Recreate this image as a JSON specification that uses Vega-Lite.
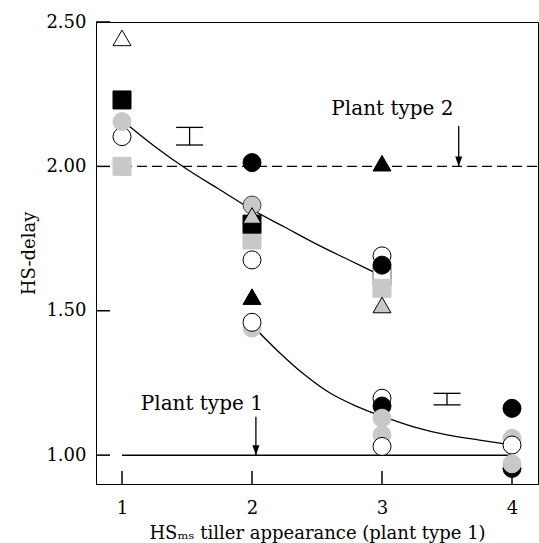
{
  "$schema": "https://vega.github.io/schema/vega-lite/v6.json",
  "width": 442,
  "height": 462,
  "autosize": {"type": "none"},
  "padding": {"left": 96, "top": 22, "right": 1, "bottom": 59},
  "background": "white",
  "config": {
    "font": "DejaVu Serif",
    "view": {"stroke": "black", "strokeWidth": 1},
    "axis": {
      "grid": false,
      "ticks": false,
      "domainColor": "black",
      "labelColor": "black",
      "titleColor": "black",
      "labelFont": "DejaVu Serif",
      "titleFont": "DejaVu Serif",
      "labelFontSize": 18,
      "titleFontSize": 18,
      "titleFontWeight": "normal"
    }
  },
  "encoding": {
    "x": {
      "field": "x",
      "type": "quantitative",
      "scale": {"domain": [0.8, 4.2], "nice": false, "zero": false},
      "axis": {
        "values": [1, 2, 3, 4],
        "format": "d",
        "labelPadding": 15,
        "title": "HSₘₛ tiller appearance (plant type 1)",
        "titleY": 54,
        "titleBaseline": "alphabetic"
      }
    },
    "y": {
      "field": "y",
      "type": "quantitative",
      "scale": {"domain": [0.9, 2.5], "nice": false, "zero": false},
      "axis": {
        "values": [1, 1.5, 2, 2.5],
        "format": ".2f",
        "labelPadding": 10,
        "title": "HS-delay",
        "titleX": -67,
        "titleY": 231,
        "titleAngle": -90,
        "titleBaseline": "middle",
        "titleAlign": "center"
      }
    }
  },
  "layer": [
    {
      "data": {"values": [{"x": 1, "y": 0.9, "yt": 0.945}, {"x": 2, "y": 0.9, "yt": 0.945}, {"x": 3, "y": 0.9, "yt": 0.945}, {"x": 4, "y": 0.9, "yt": 0.945}]},
      "mark": {"type": "rule", "color": "black", "strokeWidth": 1.5},
      "encoding": {"y2": {"field": "yt"}}
    },
    {
      "data": {"values": [{"x": 0.8, "xt": 0.908, "y": 1}, {"x": 0.8, "xt": 0.908, "y": 1.5}, {"x": 0.8, "xt": 0.908, "y": 2}, {"x": 0.8, "xt": 0.908, "y": 2.5}]},
      "mark": {"type": "rule", "color": "black", "strokeWidth": 1.5},
      "encoding": {"x2": {"field": "xt"}}
    },
    {
      "data": {"values": [{"x": 1, "y": 2}, {"x": 4.2, "y": 2}]},
      "mark": {"type": "line", "color": "black", "strokeWidth": 1.3, "strokeDash": [10, 5]},
      "encoding": {}
    },
    {
      "data": {"values": [{"x": 1, "y": 1}, {"x": 4, "y": 1}]},
      "mark": {"type": "line", "color": "black", "strokeWidth": 1.5},
      "encoding": {}
    },
    {
      "data": {"values": [
        {"c": "upper", "x": 1, "y": 2.16},
        {"c": "upper", "x": 1.25, "y": 2.07},
        {"c": "upper", "x": 1.5, "y": 1.99},
        {"c": "upper", "x": 1.75, "y": 1.92},
        {"c": "upper", "x": 2, "y": 1.85},
        {"c": "upper", "x": 2.25, "y": 1.79},
        {"c": "upper", "x": 2.5, "y": 1.73},
        {"c": "upper", "x": 2.75, "y": 1.675},
        {"c": "upper", "x": 3, "y": 1.62},
        {"c": "lower", "x": 2, "y": 1.45},
        {"c": "lower", "x": 2.2, "y": 1.36},
        {"c": "lower", "x": 2.4, "y": 1.28},
        {"c": "lower", "x": 2.6, "y": 1.215},
        {"c": "lower", "x": 2.8, "y": 1.17},
        {"c": "lower", "x": 3, "y": 1.135},
        {"c": "lower", "x": 3.25, "y": 1.097},
        {"c": "lower", "x": 3.5, "y": 1.07},
        {"c": "lower", "x": 3.75, "y": 1.052},
        {"c": "lower", "x": 4, "y": 1.035}
      ]},
      "mark": {"type": "line", "color": "black", "strokeWidth": 1.3, "interpolate": "monotone"},
      "encoding": {"detail": {"field": "c", "type": "nominal"}}
    },
    {
      "data": {"values": [
        {"x": 1.52, "y": 2.135, "y2": 2.074},
        {"x": 3.5, "y": 1.214, "y2": 1.174}
      ]},
      "layer": [
        {
          "mark": {"type": "rule", "color": "black", "strokeWidth": 1.3},
          "encoding": {"y2": {"field": "y2"}}
        },
        {
          "mark": {"type": "tick", "color": "black", "orient": "horizontal", "size": 27, "thickness": 1.3, "opacity": 1}
        },
        {
          "mark": {"type": "tick", "color": "black", "orient": "horizontal", "size": 27, "thickness": 1.3, "opacity": 1},
          "encoding": {"y": {"field": "y2", "type": "quantitative"}}
        }
      ]
    },
    {
      "data": {"values": [
        {"x": 2.03, "y": 1.133, "y2": 1.0},
        {"x": 3.59, "y": 2.14, "y2": 2.0}
      ]},
      "layer": [
        {
          "mark": {"type": "rule", "color": "black", "strokeWidth": 1.3},
          "encoding": {"y2": {"field": "y2"}}
        },
        {
          "mark": {"type": "point", "shape": "M-0.7,-1L0.7,-1L0,1Z", "size": 100, "filled": true, "color": "black", "opacity": 1, "yOffset": -5},
          "encoding": {"y": {"field": "y2", "type": "quantitative"}}
        }
      ]
    },
    {
      "data": {"values": [
        {"x": 1.614, "y": 1.156, "label": "Plant type 1"},
        {"x": 3.08, "y": 2.178, "label": "Plant type 2"}
      ]},
      "mark": {"type": "text", "font": "DejaVu Serif", "fontSize": 20, "align": "center", "baseline": "alphabetic", "color": "black"},
      "encoding": {"text": {"field": "label"}}
    },
    {
      "data": {"values": [
        {"x": 1, "y": 2.445, "s": "ot"},
        {"x": 1, "y": 2.23, "s": "bs"},
        {"x": 1, "y": 2.103, "s": "oc"},
        {"x": 1, "y": 2.155, "s": "gc"},
        {"x": 1, "y": 2.0, "s": "gs"},
        {"x": 2, "y": 2.013, "s": "bc"},
        {"x": 2, "y": 1.745, "s": "gs"},
        {"x": 2, "y": 1.80, "s": "bs"},
        {"x": 2, "y": 1.866, "s": "gco"},
        {"x": 2, "y": 1.83, "s": "gt"},
        {"x": 2, "y": 1.676, "s": "oc"},
        {"x": 2, "y": 1.549, "s": "bt"},
        {"x": 2, "y": 1.44, "s": "gc"},
        {"x": 2, "y": 1.46, "s": "oc"},
        {"x": 3, "y": 2.011, "s": "bt"},
        {"x": 3, "y": 1.69, "s": "oc"},
        {"x": 3, "y": 1.62, "s": "os"},
        {"x": 3, "y": 1.658, "s": "bc"},
        {"x": 3, "y": 1.578, "s": "gs"},
        {"x": 3, "y": 1.52, "s": "gt"},
        {"x": 3, "y": 1.197, "s": "oc"},
        {"x": 3, "y": 1.17, "s": "bc"},
        {"x": 3, "y": 1.128, "s": "gc"},
        {"x": 3, "y": 1.07, "s": "gc"},
        {"x": 3, "y": 1.03, "s": "oc"},
        {"x": 4, "y": 1.162, "s": "bc"},
        {"x": 4, "y": 1.058, "s": "gc"},
        {"x": 4, "y": 1.035, "s": "oc"},
        {"x": 4, "y": 0.954, "s": "bc"},
        {"x": 4, "y": 0.97, "s": "gc"}
      ]},
      "mark": {"type": "point", "strokeWidth": 1, "opacity": 1},
      "encoding": {
        "shape": {
          "field": "s", "type": "nominal", "legend": null,
          "scale": {
            "domain": ["oc", "bc", "gc", "gco", "ot", "bt", "gt", "bs", "gs", "os"],
            "range": ["circle", "circle", "circle", "circle", "triangle-up", "triangle-up", "triangle-up", "square", "square", "square"]
          }
        },
        "fill": {
          "field": "s", "type": "nominal", "legend": null,
          "scale": {
            "domain": ["oc", "bc", "gc", "gco", "ot", "bt", "gt", "bs", "gs", "os"],
            "range": ["white", "black", "#c8c8c8", "#c8c8c8", "white", "black", "#c8c8c8", "black", "#c8c8c8", "white"]
          }
        },
        "stroke": {
          "field": "s", "type": "nominal", "legend": null,
          "scale": {
            "domain": ["oc", "bc", "gc", "gco", "ot", "bt", "gt", "bs", "gs", "os"],
            "range": ["black", "black", "#c8c8c8", "#444444", "black", "black", "black", "black", "#c8c8c8", "#666666"]
          }
        },
        "size": {
          "field": "s", "type": "nominal", "legend": null,
          "scale": {
            "domain": ["oc", "bc", "gc", "gco", "ot", "bt", "gt", "bs", "gs", "os"],
            "range": [324, 324, 324, 324, 390, 390, 390, 300, 300, 300]
          }
        }
      }
    }
  ]
}
